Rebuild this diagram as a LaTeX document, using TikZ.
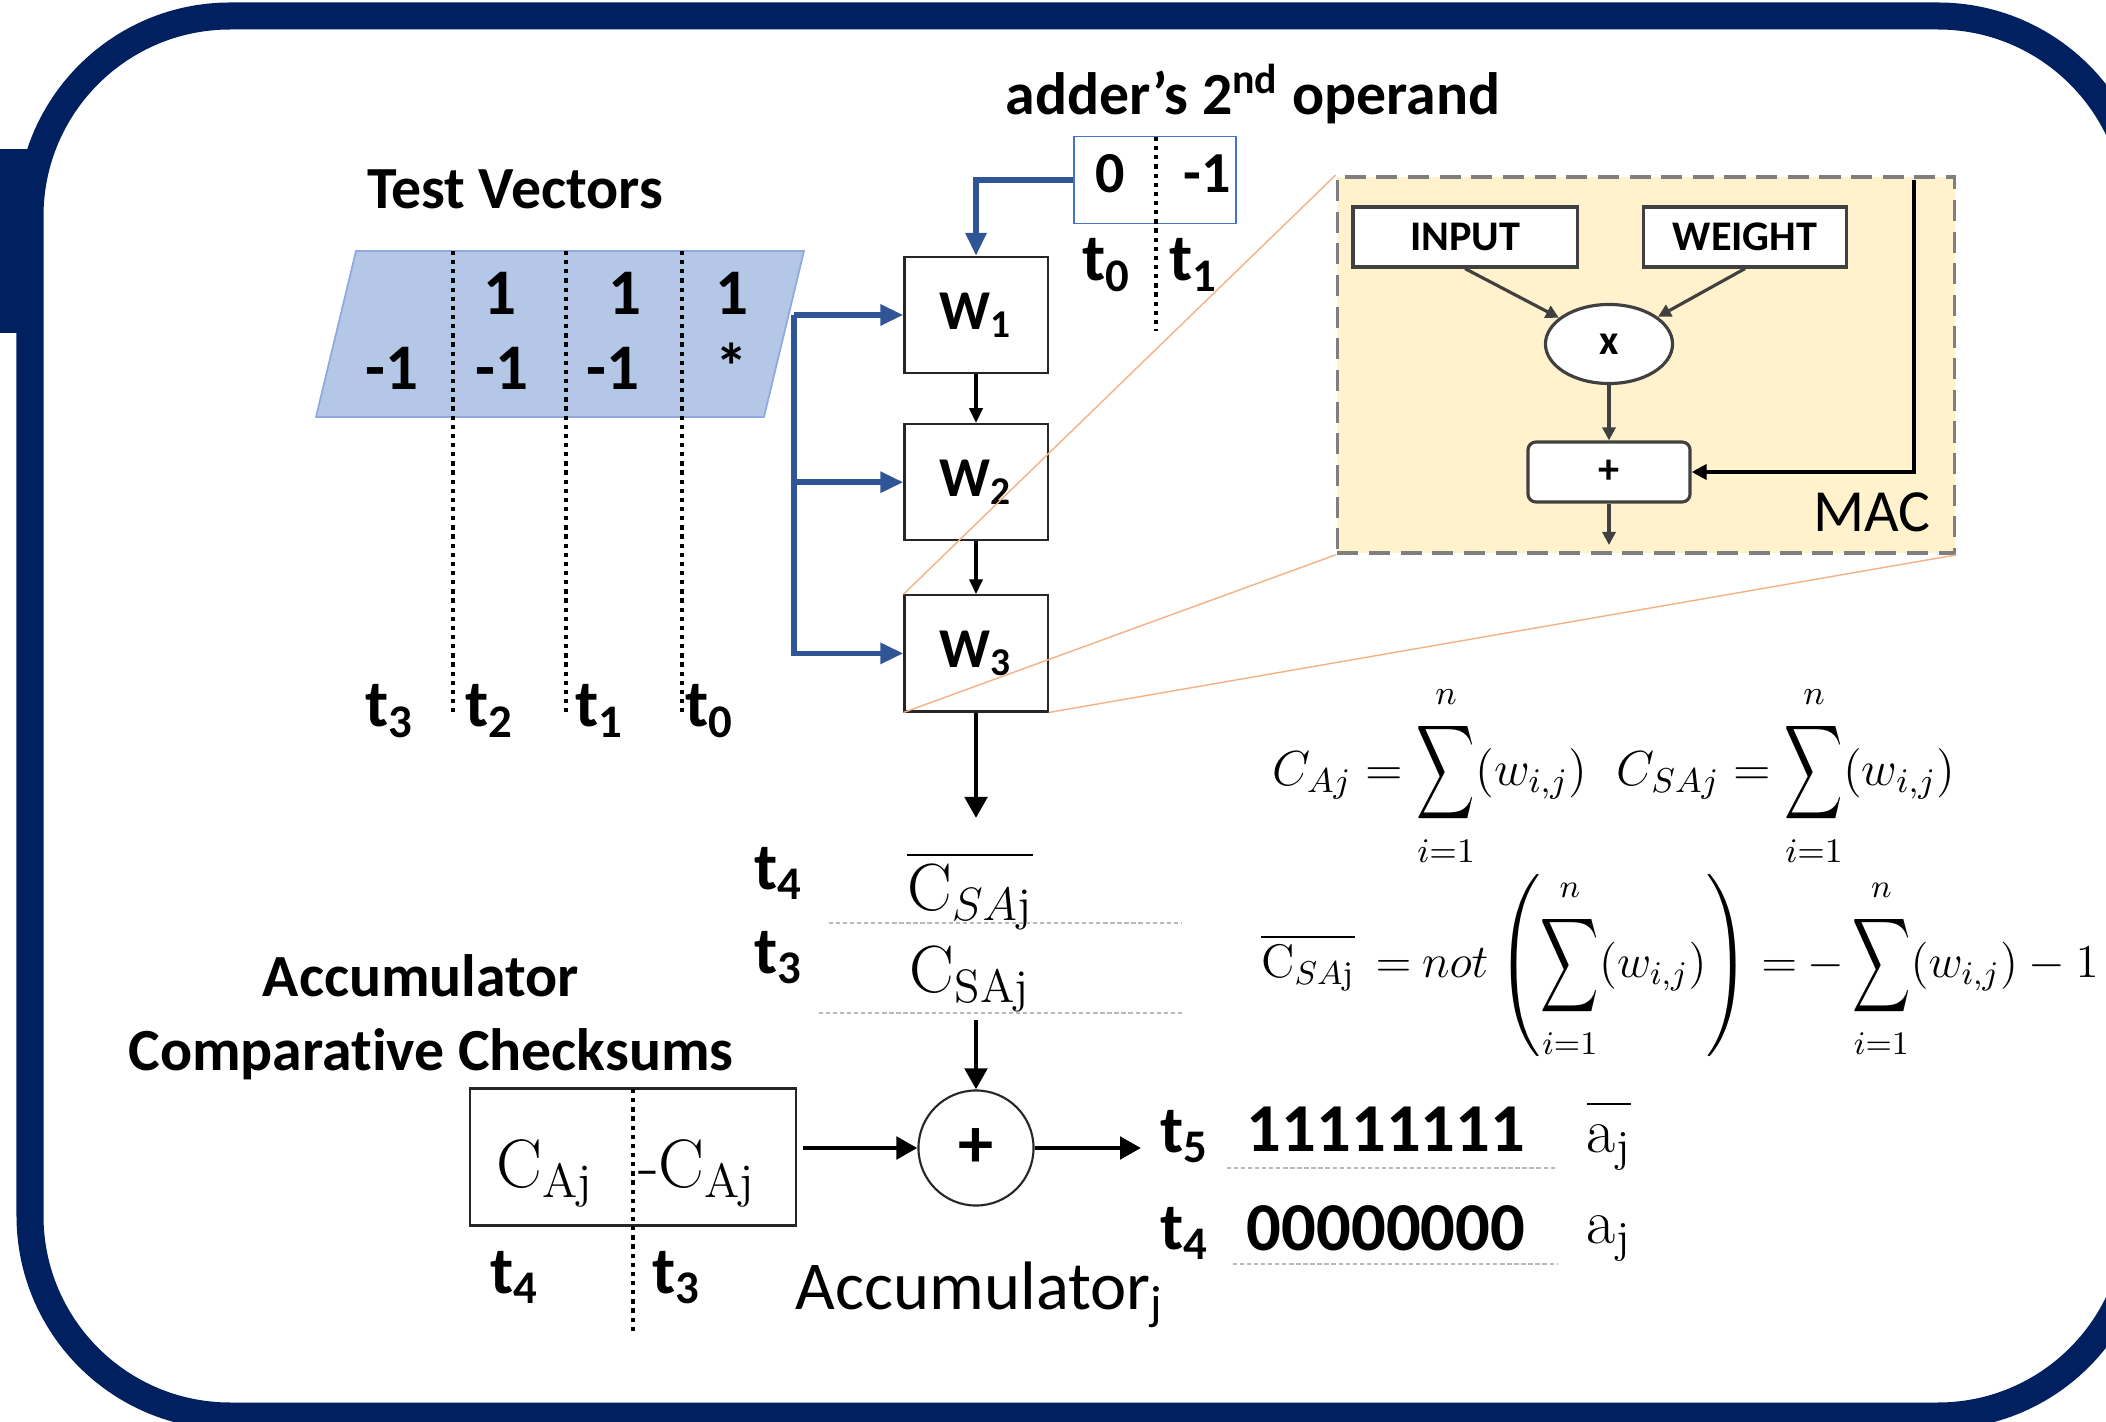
\documentclass[tikz,border=0pt]{standalone}
\usepackage{fix-cm}
\usepackage{amsmath}
\usepackage{graphicx}
\usepackage{fontspec}
\newfontfamily\calibri[Ligatures=NoCommon]{Carlito}
\usetikzlibrary{arrows.meta, positioning, shapes.geometric, calc}
\definecolor{FrameNavy}{HTML}{002060}
\definecolor{VecBlue}{HTML}{B4C7E7}
\definecolor{VecEdge}{HTML}{8FAADC}
\definecolor{LinkBlue}{HTML}{2F5597}
\definecolor{OpEdge}{HTML}{4472C4}
\definecolor{MacFill}{HTML}{FFF2CC}
\definecolor{MacEdge}{HTML}{7F7F7F}
\definecolor{ZoomLine}{HTML}{F4B183}
\definecolor{GrayDark}{HTML}{404040}
\newcommand{\tallsum}{\mathop{\vcenter{\kern1.5pt\hbox{\scalebox{0.8}[1.3]{$\displaystyle\sum$}}\kern1.5pt}}\limits}

\begin{document}
\begin{tikzpicture}[x=0.01cm, y=-0.01cm, every node/.style={inner sep=0pt, align=center},
    headb/.style={font=\calibri\bfseries\fontsize{17}{20}\selectfont, anchor=base},
    tlbl/.style={font=\calibri\bfseries\fontsize{19}{22}\selectfont, anchor=base},
    numb/.style={font=\calibri\bfseries\fontsize{18.5}{21}\selectfont, anchor=base},
    serifl/.style={font=\fontsize{19}{22}\selectfont, anchor=base},
    wbox/.style={draw=black!85, line width=0.6pt, minimum width=1.43cm, minimum height=1.16cm, font=\calibri\bfseries\fontsize{16}{19}\selectfont},
    macbox/.style={draw=GrayDark, line width=0.9pt, fill=white, font=\calibri\bfseries\fontsize{12}{14}\selectfont},
    sepline/.style={line width=1.2pt, dash pattern=on 1.2pt off 1.4pt},
    rowrule/.style={gray!55, line width=0.4pt, dash pattern=on 1.2pt off 0.8pt},
    bluearr/.style={LinkBlue, line width=1.6pt, -{Triangle[length=0.23cm, width=0.2cm]}},
    blkarr/.style={black, line width=1.4pt, -{Triangle[length=0.21cm, width=0.22cm]}},
    thinarr/.style={black, line width=1pt, -{Triangle[length=0.15cm, width=0.13cm]}},
    macarr/.style={GrayDark, line width=0.9pt, -{Triangle[length=0.13cm, width=0.13cm]}},
    zoomln/.style={ZoomLine, line width=0.4pt},
    eqn/.style={font=\fontsize{14}{17}\selectfont}]

\useasboundingbox (0,0) rectangle (2106,1422);
% frame
\begin{scope}
    \clip (0,0) rectangle (2106,1422);
    \draw[FrameNavy, line width=0.27cm, rounded corners=2cm] (30,16) rectangle (2138,1416);
    \fill[FrameNavy] (0,149) rectangle (30,333);
\end{scope}

% test vectors
\node[headb] (tvtitle) at (515,209) {Test Vectors};
\draw[fill=VecBlue, draw=VecEdge, line width=0.5pt] (356,251) -- (804,251) -- (764,417) -- (316,417) -- cycle;
\foreach \x in {453,566,682} \draw[sepline] (\x,251) -- (\x,713);
\foreach \x [count=\i] in {500,625,732} \node[numb] (up\i) at (\x,315) {1};
\foreach \x/\v [count=\i] in {392/-1,502/-1,613/-1,732/*} \node[numb] (dn\i) at (\x,390) {\v};
\foreach \x/\k in {390/3,490/2,600/1,710/0} \node[tlbl] (tv\k) at (\x,727) {t\textsubscript{\k}};
\coordinate (tvout) at (794,315);

% weight column
\node[wbox] (w1) at (976,315) {W\textsubscript{1}};
\node[wbox, below=0.49cm of w1] (w2) {W\textsubscript{2}};
\node[wbox, below=0.53cm of w2] (w3) {W\textsubscript{3}};
\draw[thinarr] (w1) -- (w2);
\draw[thinarr] (w2) -- (w3);
\draw[bluearr] (tvout) -- (w1);
\draw[bluearr] (tvout) |- (w2);
\draw[bluearr] (tvout) |- (w3);

% adder operand
\node[headb] (optitle) at (1253,115) {adder’s 2\textsuperscript{nd} operand};
\node[draw=OpEdge, line width=0.5pt, minimum width=1.62cm, minimum height=0.87cm] (opbox) at (1155,180) {};
\draw[sepline] (1156,137) -- (1156,331);
\node[numb, font=\calibri\bfseries\fontsize{16.5}{19}\selectfont] (op0) at (1110,193) {0};
\node[numb, font=\calibri\bfseries\fontsize{16.5}{19}\selectfont] (op1) at (1207,193) {-1};
\node[tlbl] (opt0) at (1107,281) {t\textsubscript{0}};
\node[tlbl] (opt1) at (1194,281) {t\textsubscript{1}};
\draw[bluearr] (opbox.west) -| (w1.north);

% MAC detail
\node[draw=MacEdge, fill=MacFill, line width=1pt, dash pattern=on 6pt off 3pt, minimum width=6.17cm, minimum height=3.76cm] (mac) at (1646,365) {};
\node[macbox, minimum width=2.24cm, minimum height=0.6cm] (inp) at (1465,237) {INPUT};
\node[macbox, minimum width=2.03cm, minimum height=0.6cm] (wgt) at (1745,237) {WEIGHT};
\node[macbox, ellipse, minimum width=1.27cm, minimum height=0.79cm] (mul) at (1609,344) {x};
\node[macbox, rounded corners=0.08cm, minimum width=1.62cm, minimum height=0.6cm] (add) at (1609,472) {+};
\node[font=\calibri\fontsize{17}{20}\selectfont, anchor=base] (maclbl) at (1872,532) {MAC};
\coordinate (macout) at (1609,545);
\coordinate (fbtop) at (1914,180);
\draw[macarr] (inp.south) -- (mul);
\draw[macarr] (wgt.south) -- (mul);
\draw[macarr] (mul) -- (add);
\draw[macarr] (add) -- (macout);
\draw[black, line width=1.2pt, -{Triangle[length=0.15cm, width=0.15cm]}] (fbtop) |- (add);
\draw[zoomln] (mac.north west) -- (w3.north west);
\draw[zoomln] (mac.south west) -- (w3.south west);
\draw[zoomln] (mac.south east) -- (w3.south east);

% checksum path
\coordinate (w3out) at (976,818);
\draw[blkarr] (w3) -- (w3out);
\node[tlbl] (ct4) at (779,889) {t\textsubscript{4}};
\node[serifl] (csabar) at (970,910) {$\overline{\mathrm{C}_{SA\mathrm{j}}}$};
\draw[rowrule] (829,923) -- (1182,923);
\node[tlbl] (ct3) at (779,973) {t\textsubscript{3}};
\node[serifl] (csa) at (970,992) {$\mathrm{C}_{\mathrm{SAj}}$};
\draw[rowrule] (819,1013) -- (1182,1013);
\coordinate (sumin) at (976,1020);
\node[draw=black!85, line width=0.6pt, circle, minimum size=1.15cm, font=\calibri\bfseries\fontsize{20}{22}\selectfont] (sum) at (976,1148) {+};
\draw[blkarr] (sumin) -- (sum);

% accumulator
\node[headb] (acctitle) at (421,996) {Accumulator};
\node[headb] (cctitle) at (431,1070) {Comparative Checksums};
\node[draw=black!85, line width=0.6pt, minimum width=3.26cm, minimum height=1.37cm] (accbox) at (633,1157) {};
\draw[sepline] (633,1089) -- (633,1334);
\node[serifl, font=\fontsize{19.5}{22}\selectfont] (cpos) at (545,1187) {$\mathrm{C}_{\mathrm{Aj}}$};
\node[serifl, font=\fontsize{19.5}{22}\selectfont] (cneg) at (697,1187) {-$\mathrm{C}_{\mathrm{Aj}}$};
\node[tlbl] (at4) at (515,1293) {t\textsubscript{4}};
\node[tlbl] (at3) at (677,1293) {t\textsubscript{3}};
\coordinate (sumout) at (1141,1148);
\draw[blkarr] ($(accbox.east |- sum.west)+(6,0)$) -- (sum.west);
\draw[blkarr] (sum) -- (sumout);
\node[font=\calibri\fontsize{19.5}{22}\selectfont, anchor=base] (acclbl) at (980,1309) {Accumulator\textsubscript{j}};

% result rows
\node[tlbl] (rt5) at (1185,1152) {t\textsubscript{5}};
\node[numb, font=\calibri\bfseries\fontsize{19.5}{22}\selectfont] (ones) at (1386,1151) {11111111};
\node[serifl, font=\fontsize{18}{20}\selectfont] (abar) at (1609,1152) {$\overline{\mathrm{a}_{\mathrm{j}}\rule{0pt}{0.62em}}$};
\draw[rowrule] (1227,1168) -- (1555,1168);
\node[tlbl] (rt4) at (1185,1249) {t\textsubscript{4}};
\node[numb, font=\calibri\bfseries\fontsize{19.5}{22}\selectfont] (zeros) at (1386,1250) {00000000};
\node[serifl, font=\fontsize{18}{20}\selectfont] (aj) at (1609,1243) {$\mathrm{a}_{\mathrm{j}}$};
\draw[rowrule] (1233,1264) -- (1557,1264);

% checksum equations
\node[eqn] (eqa) at (1614,776) {$C_{Aj}=\tallsum_{i=1}^{n}(w_{i,j})\hspace{0.6em}C_{SAj}=\tallsum_{i=1}^{n}(w_{i,j})$};
\node[eqn, font=\fontsize{13.4}{16}\selectfont] (eqb) at (1680,967) {$\thickmuskip=4mu \overline{\mathrm{C}_{SA\mathrm{j}}}\;= not\left(\tallsum_{i=1}^{n}(w_{i,j})\right) = -\tallsum_{i=1}^{n}(w_{i,j}) - 1$};
\end{tikzpicture}
\end{document}
